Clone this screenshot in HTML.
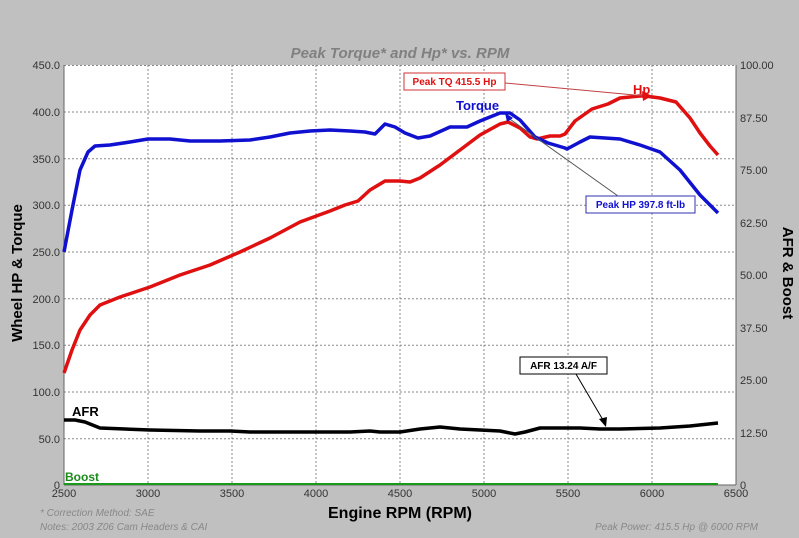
<!DOCTYPE html>
<html><head><meta charset="utf-8"><style>
html,body{margin:0;padding:0;background:#c0c0c0;}
svg{display:block;font-family:"Liberation Sans",Arial,sans-serif;}
</style></head><body>
<svg width="799" height="538" viewBox="0 0 799 538">
<rect width="799" height="538" fill="#c0c0c0"/>
<rect x="64" y="65" width="672" height="420" fill="#fff"/>
<g stroke="#888" stroke-width="1" stroke-dasharray="2,2">
<line x1="148" y1="65" x2="148" y2="485"/><line x1="232" y1="65" x2="232" y2="485"/>
<line x1="316" y1="65" x2="316" y2="485"/><line x1="400" y1="65" x2="400" y2="485"/>
<line x1="484" y1="65" x2="484" y2="485"/><line x1="568" y1="65" x2="568" y2="485"/>
<line x1="652" y1="65" x2="652" y2="485"/>
<line x1="64" y1="65.5" x2="736" y2="65.5"/><line x1="64" y1="112" x2="736" y2="112"/>
<line x1="64" y1="158.7" x2="736" y2="158.7"/><line x1="64" y1="205.3" x2="736" y2="205.3"/>
<line x1="64" y1="252" x2="736" y2="252"/><line x1="64" y1="298.7" x2="736" y2="298.7"/>
<line x1="64" y1="345.3" x2="736" y2="345.3"/><line x1="64" y1="392" x2="736" y2="392"/>
<line x1="64" y1="438.7" x2="736" y2="438.7"/>
</g>
<line x1="64" y1="65" x2="64" y2="485" stroke="#666"/>
<line x1="736" y1="65" x2="736" y2="485" stroke="#666"/>
<line x1="64" y1="485" x2="736" y2="485" stroke="#666"/>
<g font-size="11" fill="#333" text-anchor="end">
<text x="60" y="69">450.0</text><text x="60" y="116">400.0</text><text x="60" y="163">350.0</text>
<text x="60" y="209">300.0</text><text x="60" y="256">250.0</text><text x="60" y="303">200.0</text>
<text x="60" y="349">150.0</text><text x="60" y="396">100.0</text><text x="60" y="443">50.0</text>
<text x="60" y="489">0</text>
</g>
<g font-size="11" fill="#333">
<text x="740" y="69">100.00</text><text x="740" y="122">87.50</text><text x="740" y="174">75.00</text>
<text x="740" y="227">62.50</text><text x="740" y="279">50.00</text><text x="740" y="332">37.50</text>
<text x="740" y="384">25.00</text><text x="740" y="437">12.50</text><text x="740" y="489">0</text>
</g>
<g font-size="11" fill="#333" text-anchor="middle">
<text x="64" y="497">2500</text><text x="148" y="497">3000</text><text x="232" y="497">3500</text>
<text x="316" y="497">4000</text><text x="400" y="497">4500</text><text x="484" y="497">5000</text>
<text x="568" y="497">5500</text><text x="652" y="497">6000</text><text x="736" y="497">6500</text>
</g>
<text x="400" y="58" font-size="15" font-style="italic" font-weight="bold" fill="#808080" text-anchor="middle">Peak Torque* and Hp* vs. RPM</text>
<text x="400" y="518" font-size="16" font-weight="bold" fill="#000" text-anchor="middle">Engine RPM (RPM)</text>
<text transform="translate(22,273) rotate(-90)" font-size="15" font-weight="bold" text-anchor="middle">Wheel HP &amp; Torque</text>
<text transform="translate(783,273) rotate(90)" font-size="15" font-weight="bold" text-anchor="middle">AFR &amp; Boost</text>
<g font-size="10" font-style="italic" fill="#888">
<text x="40" y="516">* Correction Method: SAE</text>
<text x="40" y="530">Notes: 2003 Z06  Cam Headers &amp; CAI</text>
<text x="758" y="530" text-anchor="end">Peak Power: 415.5 Hp @ 6000 RPM</text>
</g>
<line x1="64" y1="484" x2="718" y2="484" stroke="#1a9a1a" stroke-width="2"/>
<text x="65" y="481" font-size="12" font-weight="bold" fill="#1a8a1a">Boost</text>
<polyline fill="none" stroke="#000" stroke-width="3.5" stroke-linejoin="round" points="64,420 75,420 85,422 100,428 125,429 150,430 200,431 230,431 250,432 300,432 350,432 370,431 380,432 400,432 420,429 440,427 460,429 480,430 500,431 515,434 525,432 540,428 560,428 580,428 600,429 620,429 660,428 690,426 718,423"/>
<text x="72" y="416" font-size="13" font-weight="bold">AFR</text>
<polyline fill="none" stroke="#e01010" stroke-width="3.5" stroke-linejoin="round" points="64,373 72,350 80,330 90,315 100,305 120,297 150,287 180,275 210,265 240,252 270,238 300,222 330,211 345,205 358,201 370,190 385,181 400,181 410,182 420,178 440,165 460,150 480,135 500,124 508,122 520,128 530,137 537,139 550,136 560,136 565,134 575,121 592,109 608,104 620,98 640,96 645,96 660,98 676,102 690,118 700,133 710,146 718,155"/>
<polyline fill="none" stroke="#1010d0" stroke-width="3.5" stroke-linejoin="round" points="64,252 72,210 80,170 88,152 95,146 110,145 130,142 148,139 170,139 190,141 220,141 250,140 270,137 290,133 310,131 330,130 350,131 365,132 375,134 385,124 395,127 405,133 418,138 430,136 450,127 467,127 480,121 500,113 510,113 520,120 535,137 548,143 565,148 567,149 580,142 590,137 620,139 640,145 660,152 680,170 700,195 718,213"/>
<rect x="404" y="73" width="101" height="17" fill="#fff" stroke="#d03030"/>
<text x="454.5" y="85" font-size="10" font-weight="bold" fill="#e01010" text-anchor="middle">Peak TQ 415.5 Hp</text>
<line x1="505" y1="83" x2="645" y2="96" stroke="#c04040"/>
<polygon points="652,96 642,91 643,101" fill="#e01010"/>
<text x="633" y="94" font-size="13" font-weight="bold" fill="#e01010">Hp</text>
<text x="456" y="110" font-size="13" font-weight="bold" fill="#1010d0">Torque</text>
<rect x="586" y="196" width="109" height="17" fill="#fff" stroke="#3030b0"/>
<text x="640.5" y="208" font-size="10" font-weight="bold" fill="#1010d0" text-anchor="middle">Peak HP 397.8 ft-lb</text>
<line x1="618" y1="196" x2="507" y2="117" stroke="#555"/>
<polygon points="505,113 507,122 513,118" fill="#1010d0"/>
<rect x="520" y="357" width="87" height="17" fill="#fff" stroke="#000"/>
<text x="563.5" y="369" font-size="10" font-weight="bold" fill="#000" text-anchor="middle">AFR 13.24 A/F</text>
<line x1="576" y1="374" x2="603" y2="420" stroke="#000"/>
<polygon points="606,427 599,419 607,417" fill="#000"/>
</svg>
</body></html>
